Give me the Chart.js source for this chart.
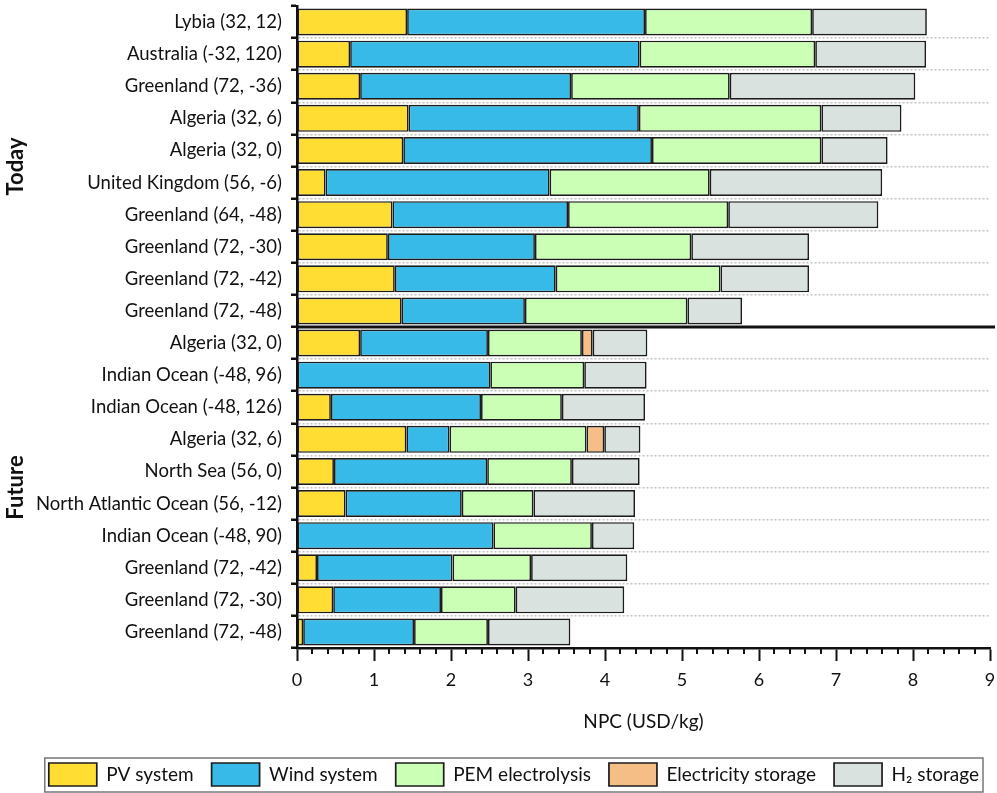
<!DOCTYPE html>
<html>
<head>
<meta charset="utf-8">
<script src="https://cdn.jsdelivr.net/npm/chart.js@4.4.1/dist/chart.umd.min.js"></script>
<style>
  html, body { margin: 0; padding: 0; background: #fff; }
  canvas { display: block; }
</style>
</head>
<body>
<canvas id="npcChart" width="997" height="793"></canvas>
<script>
// categories, top to bottom (first 10 = Today, last 10 = Future)
const categories = [
  "Lybia (32, 12)", "Australia (-32, 120)", "Greenland (72, -36)", "Algeria (32, 6)",
  "Algeria (32, 0)", "United Kingdom (56, -6)", "Greenland (64, -48)", "Greenland (72, -30)",
  "Greenland (72, -42)", "Greenland (72, -48)",
  "Algeria (32, 0)", "Indian Ocean (-48, 96)", "Indian Ocean (-48, 126)", "Algeria (32, 6)",
  "North Sea (56, 0)", "North Atlantic Ocean (56, -12)", "Indian Ocean (-48, 90)",
  "Greenland (72, -42)", "Greenland (72, -30)", "Greenland (72, -48)"
];
const groups = [
  { label: "Today", from: 0, to: 9 },
  { label: "Future", from: 10, to: 19 }
];

// cost components, USD/kg
const pvSystem =           [1.43, 0.69, 0.82, 1.45, 1.38, 0.37, 1.24, 1.18, 1.27, 1.36,  0.82, 0,    0.44, 1.42, 0.48, 0.63, 0,    0.26, 0.47, 0.08];
const windSystem =         [3.09, 3.76, 2.74, 2.99, 3.23, 2.91, 2.28, 1.91, 2.09, 1.60,  1.66, 2.51, 1.95, 0.56, 1.99, 1.51, 2.55, 1.76, 1.40, 1.44];
const pemElectrolysis =    [2.17, 2.28, 2.06, 2.37, 2.20, 2.08, 2.08, 2.03, 2.14, 2.11,  1.22, 1.22, 1.05, 1.78, 1.10, 0.93, 1.28, 1.02, 0.97, 0.96];
const electricityStorage = [0,    0,    0,    0,    0,    0,    0,    0,    0,    0,     0.14, 0,    0,    0.23, 0,    0,    0,    0,    0,    0];
const h2Storage =          [1.49, 1.44, 2.41, 1.04, 0.86, 2.24, 1.95, 1.53, 1.15, 0.71,  0.71, 0.81, 1.08, 0.47, 0.88, 1.32, 0.55, 1.25, 1.41, 1.07];

const xTicks = [0, 1, 2, 3, 4, 5, 6, 7, 8, 9];
const minorStep = 0.2;

const FONT = "Lato, 'Open Sans', sans-serif";
const TEXT = "#111";

function bar(label, data, color) {
  return {
    label: label,
    data: data,
    backgroundColor: color,
    borderColor: "#1c1c1c",
    borderWidth: 1.7,
    borderSkipped: false,
    barPercentage: 0.84,
    categoryPercentage: 1
  };
}

// minor x ticks, group titles, today/future separator, legend frame
const extras = {
  id: "extras",
  afterDraw(chart) {
    const { ctx, scales: { x, y }, chartArea } = chart;
    ctx.save();

    ctx.strokeStyle = "#111";
    ctx.lineWidth = 2;
    ctx.beginPath();
    for (let i = 0; i < (xTicks.length - 1) / minorStep; i++) {
      const v = i * minorStep;
      if (Math.abs(v - Math.round(v)) < 1e-6) continue;
      const px = Math.round(x.getPixelForValue(v));
      ctx.moveTo(px, x.top);
      ctx.lineTo(px, x.top + 6);
    }
    ctx.stroke();

    // separator between Today and Future
    const sep = (y.getPixelForValue(9) + y.getPixelForValue(10)) / 2;
    ctx.lineWidth = 3;
    ctx.beginPath();
    ctx.moveTo(chartArea.left, sep);
    ctx.lineTo(chart.width - 2, sep);
    ctx.stroke();

    ctx.fillStyle = TEXT;
    ctx.font = "bold 22px " + FONT;
    ctx.textAlign = "center";
    ctx.textBaseline = "middle";
    groups.forEach(g => {
      const cy = (y.getPixelForValue(g.from) + y.getPixelForValue(g.to)) / 2;
      ctx.save();
      ctx.translate(16, cy);
      ctx.rotate(-Math.PI / 2);
      ctx.fillText(g.label, 0, 0);
      ctx.restore();
    });

    // frame round the legend
    const hb = chart.legend.legendHitBoxes;
    if (hb && hb.length) {
      const first = hb[0], last = hb[hb.length - 1];
      const left = first.left - 4;
      const right = last.left + last.width + 4;
      ctx.strokeStyle = "#777";
      ctx.lineWidth = 1.5;
      ctx.strokeRect(left, first.top - 5, right - left, first.height + 11);
    }
    ctx.restore();
  }
};

new Chart(document.getElementById("npcChart"), {
  type: "bar",
  data: {
    labels: categories,
    datasets: [
      bar("PV system", pvSystem, "#FFDD33"),
      bar("Wind system", windSystem, "#37BAE8"),
      bar("PEM electrolysis", pemElectrolysis, "#CCFFB6"),
      bar("Electricity storage", electricityStorage, "#F4BE86"),
      bar("H\u2082 storage", h2Storage, "#D9E2DF")
    ]
  },
  options: {
    indexAxis: "y",
    responsive: false,
    animation: false,
    layout: { padding: { top: 6, right: 0, bottom: -3, left: 0 } },
    plugins: {
      tooltip: { enabled: false },
      legend: {
        position: "bottom",
        align: "end",
        labels: {
          boxWidth: 48,
          boxHeight: 23,
          padding: 18,
          color: TEXT,
          font: { family: FONT, size: 19 }
        }
      }
    },
    scales: {
      x: {
        stacked: true,
        min: 0,
        max: 9,
        afterFit(scale) { scale.height = 97; scale.paddingRight = 7; },
        ticks: {
          stepSize: 1,
          color: TEXT,
          padding: 8,
          font: { family: FONT, size: 18 }
        },
        grid: {
          drawOnChartArea: false,
          tickLength: 13,
          tickWidth: 2,
          tickColor: "#111"
        },
        border: { color: "#111", width: 2.5 },
        title: {
          display: true,
          text: "NPC (USD/kg)",
          color: TEXT,
          padding: { top: 4, bottom: 12 },
          font: { family: FONT, size: 19 }
        }
      },
      y: {
        stacked: true,
        afterFit(scale) {
          scale.width = 297;
          scale.paddingTop = 0;
          scale.paddingBottom = 0;
        },
        ticks: {
          color: TEXT,
          padding: 9,
          font: { family: FONT, size: 18.5 }
        },
        grid: {
          offset: true,
          color: ctx => (ctx.index === 0 || ctx.index === 10) ? "rgba(0,0,0,0)" : "#c4c4c4",
          lineWidth: 1.5,
          tickLength: 6,
          tickWidth: 2.5,
          tickColor: "#111"
        },
        border: { color: "#111", width: 2.5, dash: [2, 2] }
      }
    }
  },
  plugins: [extras]
});
</script>
</body>
</html>
